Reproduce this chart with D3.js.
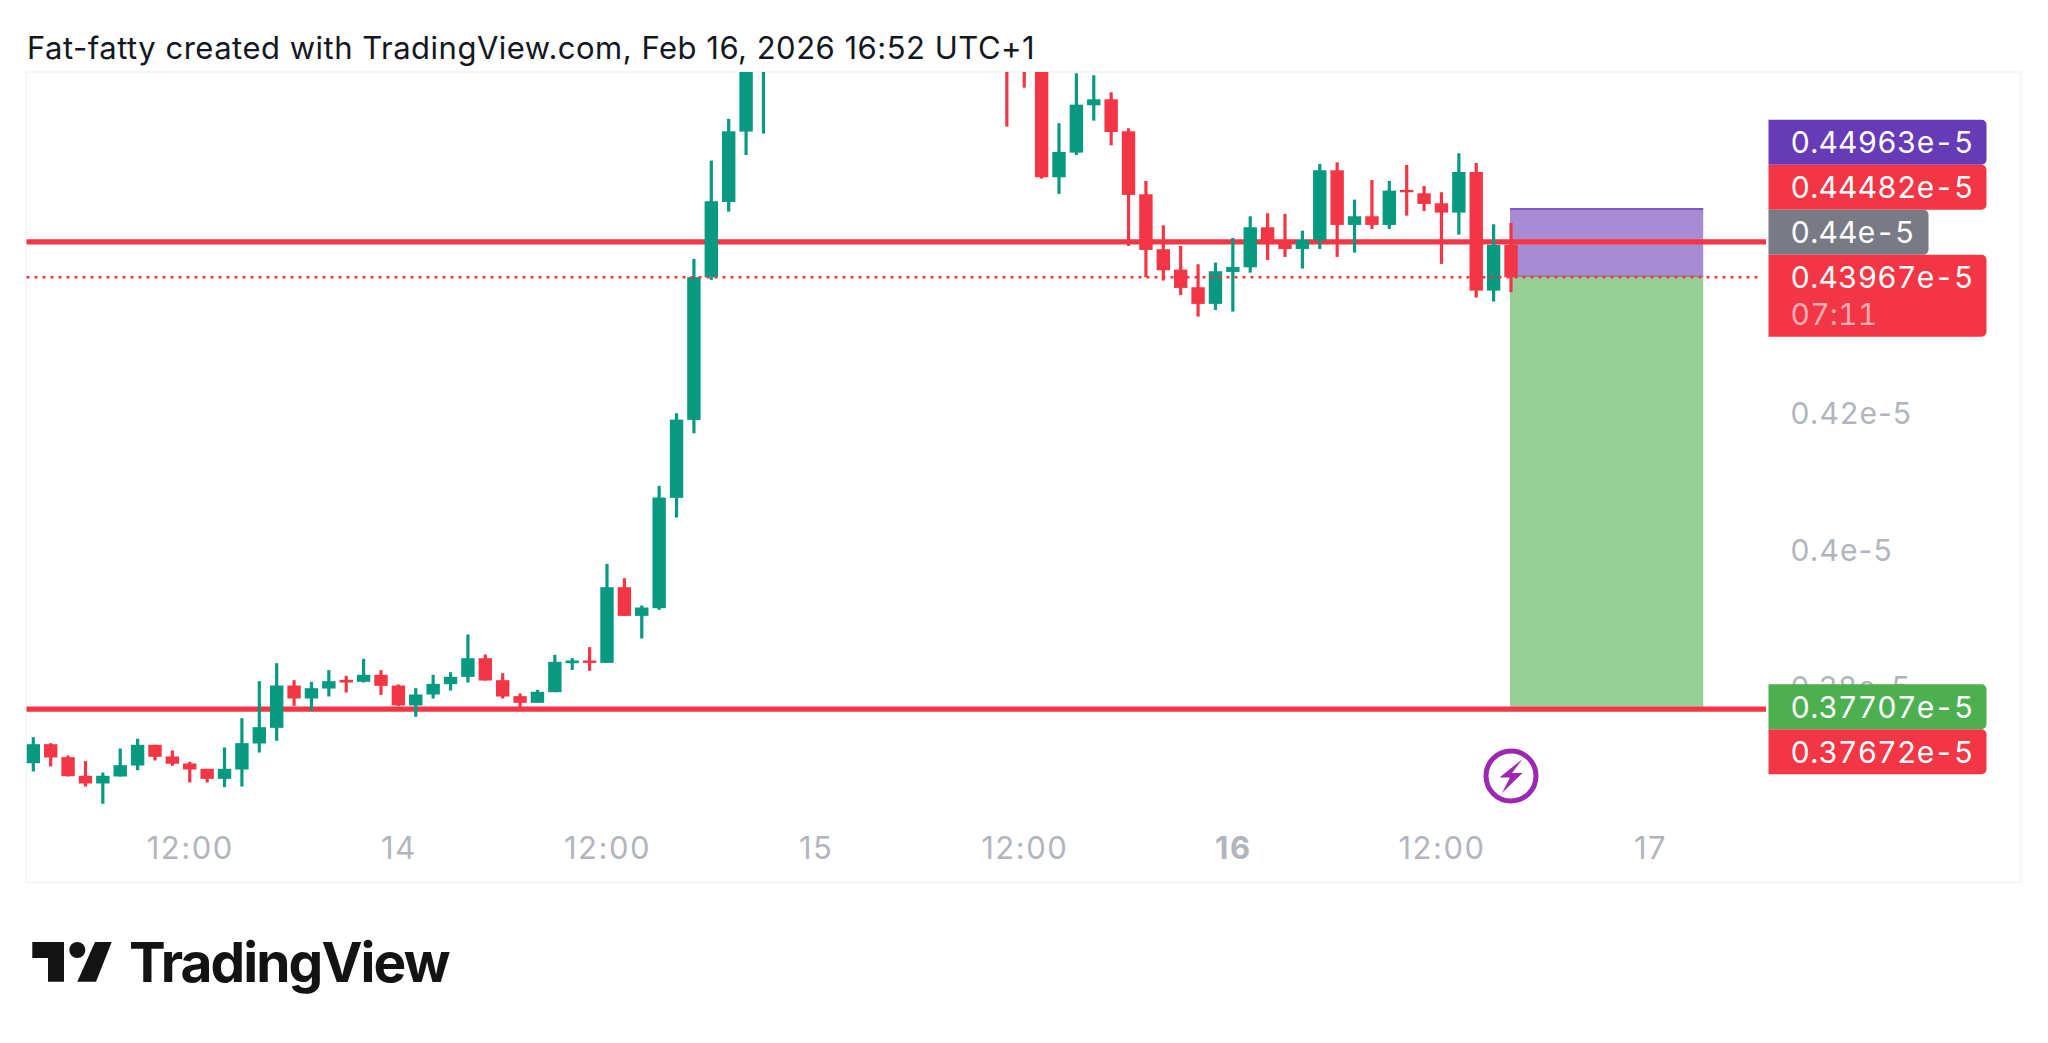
<!DOCTYPE html>
<html>
<head>
<meta charset="utf-8">
<script src="https://cdn.jsdelivr.net/npm/d3@7"></script>
<style>
  html, body { margin: 0; padding: 0; background: #fff; }
  text { font-family: Inter, "Noto Sans", sans-serif; }
  .price-label text { font-variant-numeric: tabular-nums; font-feature-settings: "tnum"; }
</style>
</head>
<body>
<div class="chart"></div>
<script>
// hourly candles from Feb 13 03:00, null = off the top of the chart
var firstCandle = new Date(Date.UTC(2026, 1, 13, 3));

var opens = [.36884,.37161,.36972,.36700,.36588,.36690,.36850,.37152,.36982,.36880,.36802,.36656,.36792,.37171,.37399,.38016,.37827,.37972,.38099,.38070,.38172,.38016,.37725,.37885,.38036,.38142,.38414,.38094,.37861,.37764,.37919,.38342,.38381,.38346,.39449,.39031,.39143,.40751,.41887,.43966,.45064,.46089,.4730,
  null,null,null,null,null,null,null,null,null,null,null,null,null,
  .4780,.4750,.4740,.45424,.45783,.46473,.46560,.46094,.45176,.44375,.44078,.43821,.43578,.44044,.44112,.44695,.44452,.44379,.44510,.45526,.44729,.44855,.44729,.45239,.45190,.45045,.44909,.45501,.43772,.44438];
var highs = [.37263,.37176,.36996,.36914,.36748,.37098,.37239,.37152,.37069,.36904,.36802,.37113,.37540,.38079,.38342,.38094,.38070,.38240,.38157,.38405,.38240,.38031,.37977,.38172,.38210,.38759,.38468,.38196,.37900,.37953,.38463,.38415,.38575,.39789,.39580,.39182,.40926,.41985,.44234,.45667,.46274,.4760,.4810,
  null,null,null,null,null,null,null,null,null,null,null,null,null,
  .4790,.4770,.4760,.46211,.46939,.46910,.46662,.46138,.45370,.44724,.44423,.44156,.44180,.44540,.44855,.44899,.44889,.44646,.45618,.45642,.45098,.45385,.45370,.45603,.45297,.45205,.45773,.45632,.44739,.44758];
var lows = [.36763,.36836,.36690,.36544,.36292,.36690,.36782,.36923,.36846,.36603,.36603,.36535,.36544,.37040,.37210,.37720,.37647,.37856,.37914,.38060,.37880,.37720,.37560,.37827,.37943,.38060,.38089,.37827,.37696,.37764,.37919,.38244,.38230,.38346,.39031,.38701,.39119,.40464,.41693,.43928,.44923,.45749,.46060,
  null,null,null,null,null,null,null,null,null,null,null,null,null,
  .46162,.46730,.45404,.45181,.45749,.46249,.45890,.44423,.43966,.43918,.43709,.43393,.43490,.43466,.44034,.44219,.44263,.44093,.44379,.44263,.44326,.44671,.44671,.44865,.44933,.44161,.44588,.43670,.43612,.43748];
var closes = [.37161,.36967,.36695,.36588,.36700,.36855,.37152,.36977,.36875,.36792,.36656,.36802,.37176,.37409,.38016,.37827,.37977,.38079,.38060,.38172,.38011,.37725,.37885,.38040,.38142,.38414,.38089,.37856,.37764,.37924,.38361,.38381,.38346,.39449,.39031,.39153,.40756,.41892,.43967,.45074,.46094,.4720,.4790,
  null,null,null,null,null,null,null,null,null,null,null,null,null,
  .4730,.4720,.45424,.45793,.46482,.46560,.46084,.45166,.44365,.44068,.43811,.43578,.44054,.44117,.44695,.44452,.44379,.44510,.45526,.44729,.44855,.44729,.45229,.45205,.45035,.44909,.45501,.43772,.44438,.43967];

var priceTicks = [0.42, 0.4, 0.38];
var priceTickLabels = ["0.42e-5", "0.4e-5", "0.38e-5"];
var timeTicks = [
  new Date(Date.UTC(2026, 1, 13, 12)), new Date(Date.UTC(2026, 1, 14)),
  new Date(Date.UTC(2026, 1, 14, 12)), new Date(Date.UTC(2026, 1, 15)),
  new Date(Date.UTC(2026, 1, 15, 12)), new Date(Date.UTC(2026, 1, 16)),
  new Date(Date.UTC(2026, 1, 16, 12)), new Date(Date.UTC(2026, 1, 17))
];
var timeTickLabels = ["12:00", "14", "12:00", "15", "12:00", "16", "12:00", "17"];

var resistance = 0.44482;
var support = 0.37672;
var lastPrice = 0.43967;
var stopPrice = 0.44963;
var targetPrice = 0.37707;
var positionBars = 11;

var width = 2048;
var height = 1043;
var plot = {left: 26.5, right: 2021, top: 72, bottom: 882.5};
var lineEnd = 1766;
var candleUp = "#089981";
var candleDown = "#f23645";
var axisGrey = "#b2b5be";
var labelX = 1768.5;
var labelHeight = 45;

var candles = opens.map(function(o, i) {
  return {t: d3.utcHour.offset(firstCandle, i), o: o, h: highs[i], l: lows[i], c: closes[i]};
}).filter(d => d.o !== null);
var lastTime = candles[candles.length - 1].t;

/* Scale */
var x = d3.scaleUtc()
  .domain([firstCandle, lastTime])
  .range([33.3, 1511]);
var y = d3.scaleLinear()
  .domain([0.35145, 0.46958])
  .range([plot.bottom, plot.top]);

var svg = d3.select(".chart").append("svg")
  .attr("width", width)
  .attr("height", height)
  .style("display", "block");

svg.append("clipPath").attr("id", "plot-clip")
  .append("rect")
  .attr("x", plot.left).attr("y", plot.top)
  .attr("width", plot.right - plot.left).attr("height", plot.bottom - plot.top);

svg.append("text")
  .attr("x", 27).attr("y", 58.5)
  .attr("font-size", 31)
  .attr("letter-spacing", 0.5)
  .attr("fill", "#131722")
  .text("Fat-fatty created with TradingView.com, Feb 16, 2026 16:52 UTC+1");

svg.append("rect")
  .attr("x", plot.left).attr("y", plot.top)
  .attr("width", plot.right - plot.left).attr("height", plot.bottom - plot.top)
  .attr("fill", "none").attr("stroke", "#f0f3fa").attr("stroke-width", 1.5);

/* Axes */
var xAxis = d3.axisBottom(x)
  .tickValues(timeTicks)
  .tickSize(0).tickPadding(0)
  .tickFormat((d, i) => timeTickLabels[i]);
var xg = svg.append("g")
  .attr("transform", "translate(0,837)")
  .call(xAxis);
xg.select(".domain").remove();
xg.selectAll("text")
  .attr("font-size", 31).attr("fill", axisGrey)
  .attr("letter-spacing", 1.5)
  .style("font-family", "Inter")
  .attr("font-weight", (d, i) => timeTickLabels[i] === "16" ? 700 : 400);

var yAxis = d3.axisRight(y)
  .tickValues(priceTicks)
  .tickSize(0).tickPadding(0)
  .tickFormat((d, i) => priceTickLabels[i]);
var yg = svg.append("g")
  .attr("transform", "translate(1790.5,1.5)")
  .call(yAxis);
yg.select(".domain").remove();
yg.selectAll("text")
  .attr("font-size", 30).attr("fill", axisGrey)
  .attr("letter-spacing", 1.1)
  .style("font-family", "Inter");

/* Short position box */
var boxLeft = x(lastTime) - 1;
var boxRight = x(d3.utcHour.offset(lastTime, positionBars)) + 1;
svg.append("rect")
  .attr("x", boxLeft).attr("y", y(stopPrice))
  .attr("width", boxRight - boxLeft).attr("height", y(lastPrice) - y(stopPrice))
  .attr("fill", "#a78cd3");
svg.append("rect")
  .attr("x", boxLeft).attr("y", y(lastPrice))
  .attr("width", boxRight - boxLeft).attr("height", y(targetPrice) - y(lastPrice))
  .attr("fill", "#96d096");
svg.append("line")
  .attr("x1", boxLeft).attr("x2", boxRight)
  .attr("y1", y(stopPrice)).attr("y2", y(stopPrice))
  .attr("stroke", "#7e57c2").attr("stroke-width", 2);
svg.append("line")
  .attr("x1", boxLeft).attr("x2", boxRight)
  .attr("y1", y(lastPrice) - 1).attr("y2", y(lastPrice) - 1)
  .attr("stroke", "#8a8a94").attr("stroke-width", 2);

/* Horizontal levels */
svg.selectAll(".level")
  .data([resistance, support])
  .enter().append("line")
  .attr("class", "level")
  .attr("x1", plot.left).attr("x2", lineEnd)
  .attr("y1", d => y(d)).attr("y2", d => y(d))
  .attr("stroke", candleDown).attr("stroke-width", 5.3);

/* Candles */
var bars = svg.append("g").attr("clip-path", "url(#plot-clip)")
  .selectAll("g")
  .data(candles).enter()
  .append("g")
  .attr("fill", d => d.c >= d.o ? candleUp : candleDown);
bars.append("rect")
  .attr("x", d => x(d.t) - 1.6)
  .attr("width", 3.2)
  .attr("y", d => y(d.h))
  .attr("height", d => y(d.l) - y(d.h));
bars.append("rect")
  .attr("x", d => x(d.t) - 6.7)
  .attr("width", 13.4)
  .attr("y", d => y(Math.max(d.o, d.c)))
  .attr("height", d => y(Math.min(d.o, d.c)) - y(Math.max(d.o, d.c)));

/* Last price dotted line */
svg.append("line")
  .attr("x1", plot.left).attr("x2", 1762)
  .attr("y1", y(lastPrice)).attr("y2", y(lastPrice))
  .attr("stroke", candleDown).attr("stroke-width", 2.4)
  .attr("stroke-dasharray", "3 5");

/* Price labels, stacked the way the price scale pushes them apart */
var lastTop = y(lastPrice) - labelHeight / 2;
var targetTop = y(targetPrice) - labelHeight / 2;
var priceLabels = [
  {text: "0.44963e-5", fill: "#673ab7", top: lastTop - 3 * labelHeight, w: 218, h: labelHeight},
  {text: "0.44482e-5", fill: candleDown, top: lastTop - 2 * labelHeight, w: 218, h: labelHeight},
  {text: "0.44e-5", fill: "#787b86", top: lastTop - labelHeight, w: 160, h: labelHeight},
  {text: "0.43967e-5", sub: "07:11", fill: candleDown, top: lastTop, w: 218, h: 82},
  {text: "0.37672e-5", fill: candleDown, top: targetTop + labelHeight, w: 218, h: labelHeight},
  {text: "0.37707e-5", fill: "#4caf50", top: targetTop, w: 218, h: labelHeight}
];
function labelPath(d) {
  var r = 5;
  return "M" + labelX + "," + d.top + "H" + (labelX + d.w - r) +
    "a" + r + "," + r + " 0 0 1 " + r + "," + r +
    "V" + (d.top + d.h - r) +
    "a" + r + "," + r + " 0 0 1 " + (-r) + "," + r +
    "H" + labelX + "Z";
}
var labels = svg.selectAll(".price-label")
  .data(priceLabels).enter()
  .append("g").attr("class", "price-label");
labels.append("path").attr("d", labelPath).attr("fill", d => d.fill);
labels.append("text")
  .attr("x", 1790.5).attr("y", d => d.top + 33.5)
  .attr("font-size", 30).attr("letter-spacing", 0.2).attr("fill", "#fff")
  .text(d => d.text);
labels.filter(d => d.sub).append("text")
  .attr("x", 1790.5).attr("y", d => d.top + 70)
  .attr("font-size", 30).attr("letter-spacing", 0.2).attr("fill", "#fff").attr("fill-opacity", 0.6)
  .text(d => d.sub);

/* Alert marker */
var marker = svg.append("g")
  .attr("transform", "translate(" + x(lastTime) + ",776)");
marker.append("circle")
  .attr("r", 25).attr("fill", "#fff")
  .attr("stroke", "#9c27b0").attr("stroke-width", 5);
marker.append("path")
  .attr("d", "M11.5,-17L-11.5,1.5H-1L-9,17L11.5,-3H1Z")
  .attr("fill", "#9c27b0");

/* Logo */
var logo = svg.append("g").attr("transform", "translate(0,900)").attr("fill", "#131313");
logo.append("path").attr("d", "M32.3,42H64V81.7H48V58H32.3Z");
logo.append("circle").attr("cx", 77.3).attr("cy", 50).attr("r", 8);
logo.append("path").attr("d", "M95,42H111.7L96,81.7H77.3Z");
logo.append("text")
  .attr("x", 129).attr("y", 81.7)
  .attr("font-size", 55).attr("font-weight", 700)
  .attr("letter-spacing", -1.9)
  .text("TradingView");
</script>
</body>
</html>
